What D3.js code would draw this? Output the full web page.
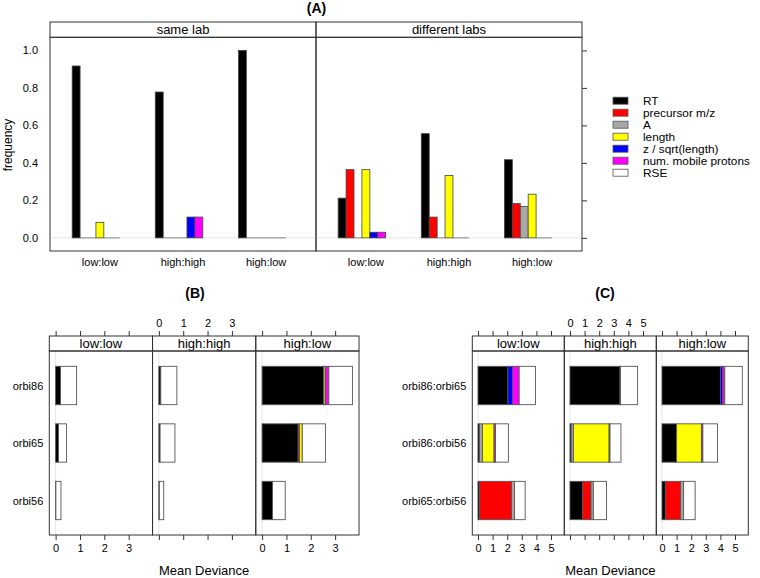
<!DOCTYPE html>
<html><head><meta charset="utf-8">
<script src="https://cdn.jsdelivr.net/npm/d3@7"></script>
<style>
body{margin:0;background:#fff;}
text{font-family:"Liberation Sans",Arial,Helvetica,sans-serif;}
</style></head>
<body><svg id="chart" width="760" height="578"></svg>
<script>
// ---------------- data ----------------
const predictors = ["RT","precursor m/z","A","length","z / sqrt(length)","num. mobile protons","RSE"];
const predictorColors = ["#000000","#ff0000","#a8a8a8","#ffff00","#0000ff","#ff00ff","#ffffff"];
const conditions = ["low:low","high:high","high:low"];
const labPanels = ["same lab","different labs"];
const freqTicks = [0,0.2,0.4,0.6,0.8,1.0];

// (A) frequency per predictor, rows = conditions
const sameLabFreq = [
  [0.917,0,0,0.083,0,0,0],
  [0.778,0,0,0,0.111,0.111,0],
  [1.0,0,0,0,0,0,0]
];
const diffLabFreq = [
  [0.212,0.364,0,0.364,0.030,0.030,0],
  [0.556,0.111,0,0.333,0,0,0],
  [0.417,0.183,0.167,0.233,0,0,0]
];

// (B) mean deviance stacked, per condition, rows = runs
const runsB = ["orbi86","orbi65","orbi56"];
const ticksB = [0,1,2,3];
const devB_lowlow = [
  [0.20,0,0,0,0,0,0.66],
  [0.12,0,0,0,0,0,0.33],
  [0.01,0,0,0,0,0,0.21]
];
const devB_highhigh = [
  [0.08,0,0,0,0,0,0.66],
  [0.05,0,0,0,0,0,0.61],
  [0.02,0,0,0,0,0,0.18]
];
const devB_highlow = [
  [2.52,0.02,0,0.06,0,0.14,0.97],
  [1.48,0.06,0,0.11,0,0,0.95],
  [0.43,0,0,0,0,0,0.52]
];

// (C)
const runsC = ["orbi86:orbi65","orbi86:orbi56","orbi65:orbi56"];
const ticksC = [0,1,2,3,4,5];
const devC_lowlow = [
  [2.05,0,0,0,0.32,0.45,1.12],
  [0.10,0,0.20,0.80,0,0.10,0.88],
  [0.10,2.20,0.20,0,0,0,0.73]
];
const devC_highhigh = [
  [3.42,0,0,0,0.04,0,1.17],
  [0.08,0,0.15,2.45,0,0.06,0.75],
  [0.87,0.57,0.16,0,0,0,0.90]
];
const devC_highlow = [
  [4.00,0,0,0,0.14,0.16,1.20],
  [1.00,0,0,1.70,0,0.10,1.00],
  [0.23,1.05,0.20,0,0,0,0.79]
];

// ---------------- drawing ----------------
const svg = d3.select("#chart");
const FRAME = "#333";
const color = d3.scaleOrdinal().domain(predictors).range(predictorColors);

// ===== Panel A =====
const A = {left:50, right:582, stripTop:22, top:37.3, bottom:251};
const yA = d3.scaleLinear().domain([-0.07,1.07]).range([A.bottom, A.top]);
const panelX = d3.scaleBand().domain(labPanels).range([A.left, A.right]);
const freqData = [sameLabFreq, diffLabFreq];

svg.append("text").attr("x",316.5).attr("y",13).attr("text-anchor","middle")
  .attr("font-weight","bold").attr("font-size",14).text("(A)");

labPanels.forEach((p, pi) => {
  const x0 = panelX(p), x1 = x0 + panelX.bandwidth();
  const g = svg.append("g");
  const xc = d3.scaleLinear().domain([0.4,3.6]).range([x0,x1]);
  const groupW = (xc(2)-xc(1))*2/3;
  const inner = d3.scaleBand().domain(predictors).range([-groupW/2, groupW/2]);
  g.append("line").attr("x1",x0).attr("x2",x1).attr("y1",yA(0)).attr("y2",yA(0))
    .attr("stroke","#e6e6e6");
  conditions.forEach((c, ci) => {
    const cx = xc(ci+1);
    freqData[pi][ci].forEach((v, k) => {
      const bx = cx + inner(predictors[k]);
      const bw = inner.bandwidth();
      if (v > 0) {
        g.append("rect").attr("x",bx).attr("y",yA(v)).attr("width",bw)
          .attr("height",yA(0)-yA(v)).attr("fill",color(predictors[k]))
          .attr("stroke","#444").attr("stroke-width",0.8);
      } else if (predictors[k] !== "RSE") {
        g.append("line").attr("x1",bx).attr("x2",bx+bw).attr("y1",yA(0)).attr("y2",yA(0))
          .attr("stroke","#888").attr("stroke-width",1);
      }
    });
    svg.append("text").attr("x",cx).attr("y",265.5).attr("text-anchor","middle")
      .attr("font-size",11).text(c);
  });
  g.append("rect").attr("x",x0).attr("y",A.stripTop).attr("width",x1-x0).attr("height",A.top-A.stripTop)
    .attr("fill","none").attr("stroke",FRAME);
  g.append("text").attr("x",(x0+x1)/2).attr("y",A.stripTop+12).attr("text-anchor","middle")
    .attr("font-size",13).text(p);
  g.append("rect").attr("x",x0).attr("y",A.top).attr("width",x1-x0).attr("height",A.bottom-A.top)
    .attr("fill","none").attr("stroke",FRAME);
});
freqTicks.forEach(t => {
  svg.append("text").attr("x",38).attr("y",yA(t)+4).attr("text-anchor","end")
    .attr("font-size",11).text(d3.format(".1f")(t));
});
const rightAxis = d3.axisRight(yA).tickValues(freqTicks).tickSize(5).tickSizeOuter(0).tickFormat("");
svg.append("g").attr("transform",`translate(${A.right},0)`).call(rightAxis)
  .call(s => s.select(".domain").remove())
  .call(s => s.selectAll("line").attr("stroke",FRAME));
svg.append("text").attr("transform","translate(12,145) rotate(-90)").attr("text-anchor","middle")
  .attr("font-size",12).text("frequency");

// legend
const legendY0 = 100.7, legendStep = 12;
predictors.forEach((p, i) => {
  const y = legendY0 + i*legendStep;
  svg.append("rect").attr("x",613).attr("y",y-3.5).attr("width",15).attr("height",7)
    .attr("fill",color(p)).attr("stroke","#555").attr("stroke-width",0.8);
  svg.append("text").attr("x",643).attr("y",y+4).attr("font-size",11.8).text(p);
});

// ===== Panels B & C =====
function stackedPanel(opts) {
  const {left, right, stripTop, top, bottom, dataSets, runs, domain, ticks, title, titleX} = opts;
  svg.append("text").attr("x",titleX).attr("y",298).attr("text-anchor","middle")
    .attr("font-weight","bold").attr("font-size",14).text(title);
  const pBand = d3.scaleBand().domain(conditions).range([left,right]);
  const yS = d3.scaleLinear().domain([0.4,3.6]).range([top,bottom]);
  const barH = (yS(2)-yS(1))*2/3;
  conditions.forEach((c, ci) => {
    const x0 = pBand(c), x1 = x0 + pBand.bandwidth();
    const xs = d3.scaleLinear().domain(domain).range([x0,x1]);
    const g = svg.append("g");
    g.append("line").attr("x1",xs(0)).attr("x2",xs(0)).attr("y1",top).attr("y2",bottom)
      .attr("stroke","#e6e6e6");
    dataSets[ci].forEach((row, ri) => {
      const yc = yS(ri+1);
      let cum = 0;
      row.forEach((v, k) => {
        if (v > 0) {
          g.append("rect").attr("x",xs(cum)).attr("y",yc-barH/2).attr("width",xs(cum+v)-xs(cum))
            .attr("height",barH).attr("fill",color(predictors[k]))
            .attr("stroke","#555").attr("stroke-width",0.9);
        }
        cum += v;
      });
    });
    g.append("rect").attr("x",x0).attr("y",stripTop).attr("width",x1-x0).attr("height",top-stripTop)
      .attr("fill","none").attr("stroke",FRAME);
    g.append("text").attr("x",(x0+x1)/2).attr("y",stripTop+12).attr("text-anchor","middle")
      .attr("font-size",13).text(c);
    g.append("rect").attr("x",x0).attr("y",top).attr("width",x1-x0).attr("height",bottom-top)
      .attr("fill","none").attr("stroke",FRAME);
    const labelBottom = ci !== 1;
    const axB = d3.axisBottom(xs).tickValues(ticks).tickSize(5).tickSizeOuter(0).tickPadding(4)
      .tickFormat(labelBottom ? d3.format("d") : "");
    const axT = d3.axisTop(xs).tickValues(ticks).tickSize(5).tickSizeOuter(0).tickPadding(4)
      .tickFormat(labelBottom ? "" : d3.format("d"));
    [ [axB, bottom], [axT, stripTop] ].forEach(([ax, yy]) => {
      svg.append("g").attr("transform",`translate(0,${yy})`).call(ax)
        .call(s => s.select(".domain").remove())
        .call(s => s.selectAll("line").attr("stroke",FRAME))
        .call(s => s.selectAll("text").attr("font-size",11).attr("font-family","Liberation Sans, Arial, sans-serif").attr("fill","#000"));
    });
  });
  runs.forEach((r, ri) => {
    svg.append("text").attr("x",left-6).attr("y",yS(ri+1)+4).attr("text-anchor","end")
      .attr("font-size",11).text(r);
  });
  svg.append("text").attr("x",(left+right)/2).attr("y",574.5).attr("text-anchor","middle")
    .attr("font-size",13).text("Mean Deviance");
}

stackedPanel({left:49.3, right:359, stripTop:336, top:351, bottom:535,
  dataSets:[devB_lowlow, devB_highhigh, devB_highlow], runs:runsB,
  domain:[-0.26,3.98], ticks:ticksB, title:"(B)", titleX:195});
stackedPanel({left:472.3, right:748.3, stripTop:336, top:351, bottom:535,
  dataSets:[devC_lowlow, devC_highhigh, devC_highlow], runs:runsC,
  domain:[-0.39,5.91], ticks:ticksC, title:"(C)", titleX:605});
</script></body></html>
